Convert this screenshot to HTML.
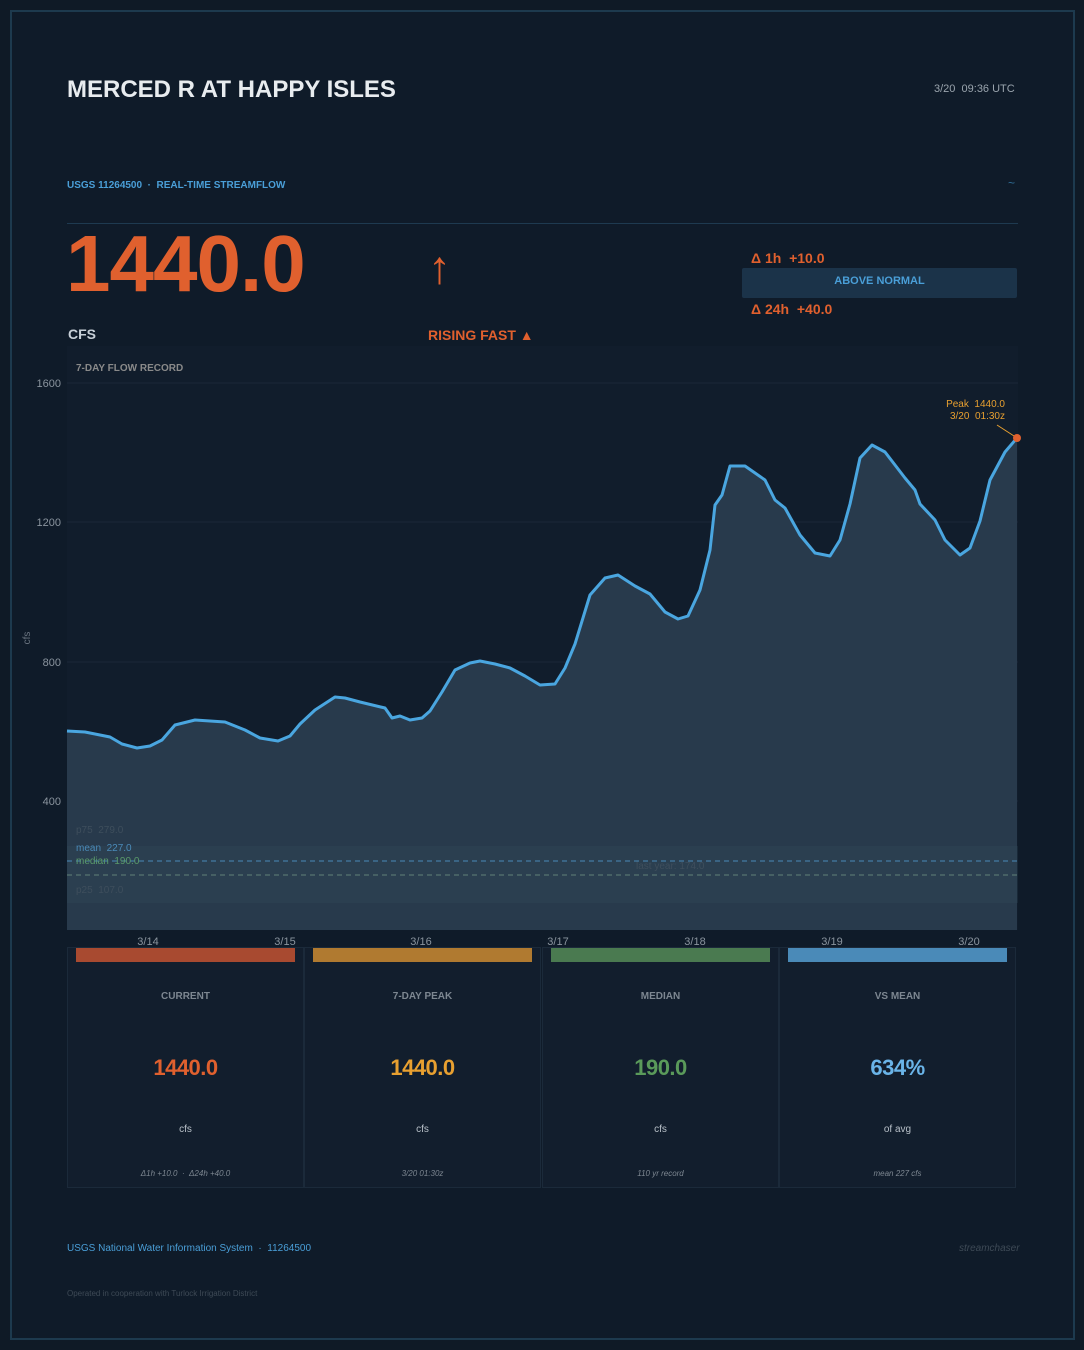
<!DOCTYPE html>
<html><head><meta charset="utf-8"><style>
*{margin:0;padding:0;box-sizing:border-box}
body{width:1084px;height:1350px;background:#0f1a26;font-family:"Liberation Sans",sans-serif;position:relative;overflow:hidden}
.frame{position:absolute;left:10px;top:10px;width:1065px;height:1330px;border:2px solid #1d3a4e;background:#0f1b29}
.a{position:absolute;white-space:nowrap}
.card{position:absolute;top:947px;width:237px;height:241px;border:1px solid #1b2a3a;background:#121e2d}
.card .bar{position:absolute;left:8px;right:8px;top:0;height:14px}
.card .t{position:absolute;top:43px;width:100%;text-align:center;font-size:10px;font-weight:bold;color:#7d8791}
.card .v{position:absolute;top:107px;width:100%;text-align:center;font-size:22px;font-weight:bold;letter-spacing:-0.5px}
.card .u{position:absolute;top:176px;width:100%;text-align:center;font-size:10px;color:#b8c0c8}
.card .f{position:absolute;top:221px;width:100%;text-align:center;font-size:8px;font-style:italic;color:#7d8791}
</style></head><body>
<div class="frame"></div>
<div class="a" style="left:67px;top:76px;font-size:24px;font-weight:bold;color:#e8ecef">MERCED R AT HAPPY ISLES</div>
<div class="a" style="left:934px;top:83px;font-size:11px;color:#9aa4ad">3/20&nbsp; 09:36 UTC</div>
<div class="a" style="left:67px;top:180px;font-size:10px;font-weight:bold;color:#4a9fd8">USGS 11264500 &nbsp;·&nbsp; REAL-TIME STREAMFLOW</div>
<div class="a" style="left:1008px;top:176px;font-size:12px;color:#2f6d96">~</div>
<div class="a" style="left:67px;top:223px;width:951px;height:1px;background:#1e3a50"></div>
<div class="a" style="left:66px;top:218px;font-size:80px;font-weight:bold;color:#e0602e;letter-spacing:-1px">1440.0</div>
<div class="a" style="left:428px;top:240px;font-size:46px;color:#e0602e">↑</div>
<div class="a" style="left:68px;top:326px;font-size:14px;font-weight:bold;color:#c8d0d8">CFS</div>
<div class="a" style="left:428px;top:327px;font-size:14px;font-weight:bold;color:#e0602e">RISING FAST ▲</div>
<div class="a" style="left:751px;top:250px;font-size:14px;font-weight:bold;color:#e0602e">Δ 1h&nbsp; +10.0</div>
<div class="a" style="left:742px;top:268px;width:275px;height:30px;background:#1b3349;border-radius:2px;text-align:center;line-height:27px;font-size:11px;font-weight:bold;color:#4a9fd8">ABOVE NORMAL</div>
<div class="a" style="left:751px;top:301px;font-size:14px;font-weight:bold;color:#e0602e">Δ 24h&nbsp; +40.0</div>
<svg class="a" style="left:0;top:0" width="1084" height="1350">
<rect x="67" y="346" width="951" height="584" fill="#111d2c"/>
<g stroke="#1a2838" stroke-width="1"><line x1="67" x2="1018" y1="383" y2="383"/><line x1="67" x2="1018" y1="522" y2="522"/><line x1="67" x2="1018" y1="662" y2="662"/><line x1="67" x2="1018" y1="801" y2="801"/></g>
<path d="M67,731 L85,732 110,737 122,744 137,748 150,746 162,740 175,725 195,720 225,722 245,730 260,738 278,741 290,736 300,724 315,710 335,697 345,698 360,702 385,708 392,718 400,716 410,720 422,718 430,711 442,692 455,670 470,663 480,661 495,664 510,668 525,676 540,685 555,684 565,668 575,644 590,595 605,578 618,575 635,586 650,594 665,612 678,619 688,616 700,590 710,550 715,505 722,495 730,466 745,466 765,480 775,500 785,508 800,535 815,553 830,556 840,540 850,504 860,458 872,445 885,452 905,478 915,490 920,504 935,520 945,540 960,555 970,548 980,521 990,480 1005,452 1017,438 L1017,930 L67,930 Z" fill="#283a4c"/>
<rect x="67" y="846" width="951" height="57" fill="#34505a" opacity="0.25"/>
<line x1="67" x2="1018" y1="861" y2="861" stroke="#4a8ab8" stroke-dasharray="5,4"/>
<line x1="67" x2="1018" y1="875" y2="875" stroke="#7a9e8a" stroke-dasharray="5,4" opacity="0.7"/>
<path d="M67,731 L85,732 110,737 122,744 137,748 150,746 162,740 175,725 195,720 225,722 245,730 260,738 278,741 290,736 300,724 315,710 335,697 345,698 360,702 385,708 392,718 400,716 410,720 422,718 430,711 442,692 455,670 470,663 480,661 495,664 510,668 525,676 540,685 555,684 565,668 575,644 590,595 605,578 618,575 635,586 650,594 665,612 678,619 688,616 700,590 710,550 715,505 722,495 730,466 745,466 765,480 775,500 785,508 800,535 815,553 830,556 840,540 850,504 860,458 872,445 885,452 905,478 915,490 920,504 935,520 945,540 960,555 970,548 980,521 990,480 1005,452 1017,438" fill="none" stroke="#4aa6e0" stroke-width="3" stroke-linejoin="round"/>
<line x1="997" y1="425" x2="1014" y2="436" stroke="#e8a030"/>
<circle cx="1017" cy="438" r="4" fill="#e0602e"/>
<g font-family="Liberation Sans" font-size="11" fill="#8a949e" text-anchor="end"><text x="61" y="387">1600</text><text x="61" y="526">1200</text><text x="61" y="666">800</text><text x="61" y="805">400</text></g>
<text x="30" y="638" font-family="Liberation Sans" font-size="10" fill="#6a7480" transform="rotate(-90 30 638)" text-anchor="middle">cfs</text>
<g font-family="Liberation Sans" font-size="11" fill="#8a949e" text-anchor="middle"><text x="148" y="945">3/14</text><text x="285" y="945">3/15</text><text x="421" y="945">3/16</text><text x="558" y="945">3/17</text><text x="695" y="945">3/18</text><text x="832" y="945">3/19</text><text x="969" y="945">3/20</text></g>
<text x="76" y="371" font-family="Liberation Sans" font-size="10" font-weight="bold" fill="#8a8a8a">7-DAY FLOW RECORD</text>
<g font-family="Liberation Sans" font-size="10" text-anchor="end" fill="#e8a030"><text x="1005" y="407">Peak&#160; 1440.0</text><text x="1005" y="419">3/20&#160; 01:30z</text></g>
<g font-family="Liberation Sans" font-size="10"><text x="76" y="833" fill="#3e4e5c">p75&#160; 279.0</text><text x="76" y="851" fill="#4a8ab8">mean&#160; 227.0</text><text x="76" y="864" fill="#5a9a6a">median&#160; 190.0</text><text x="76" y="893" fill="#3e4e5c">p25&#160; 107.0</text><text x="636" y="869" fill="#3e4e5c">last year: 174.0</text></g>
</svg>
<div class="card" style="left:67px"><div class="bar" style="background:#a84a30"></div><div class="t">CURRENT</div><div class="v" style="color:#e0602e">1440.0</div><div class="u">cfs</div><div class="f">Δ1h +10.0 &nbsp;·&nbsp; Δ24h +40.0</div></div>
<div class="card" style="left:304px"><div class="bar" style="background:#b07a30"></div><div class="t">7-DAY PEAK</div><div class="v" style="color:#e8a030">1440.0</div><div class="u">cfs</div><div class="f">3/20 01:30z</div></div>
<div class="card" style="left:542px"><div class="bar" style="background:#4a7a50"></div><div class="t">MEDIAN</div><div class="v" style="color:#5a9a5a">190.0</div><div class="u">cfs</div><div class="f">110 yr record</div></div>
<div class="card" style="left:779px"><div class="bar" style="background:#4a8ab8"></div><div class="t">VS MEAN</div><div class="v" style="color:#6ab4e8">634%</div><div class="u">of avg</div><div class="f">mean 227 cfs</div></div>
<div class="a" style="left:67px;top:1243px;font-size:10px;color:#4a9fd8">USGS National Water Information System &nbsp;·&nbsp; 11264500</div>
<div class="a" style="left:959px;top:1243px;font-size:10px;font-style:italic;color:#3e4a56">streamchaser</div>
<div class="a" style="left:67px;top:1289px;font-size:8px;color:#3e4a56">Operated in cooperation with Turlock Irrigation District</div>
</body></html>
